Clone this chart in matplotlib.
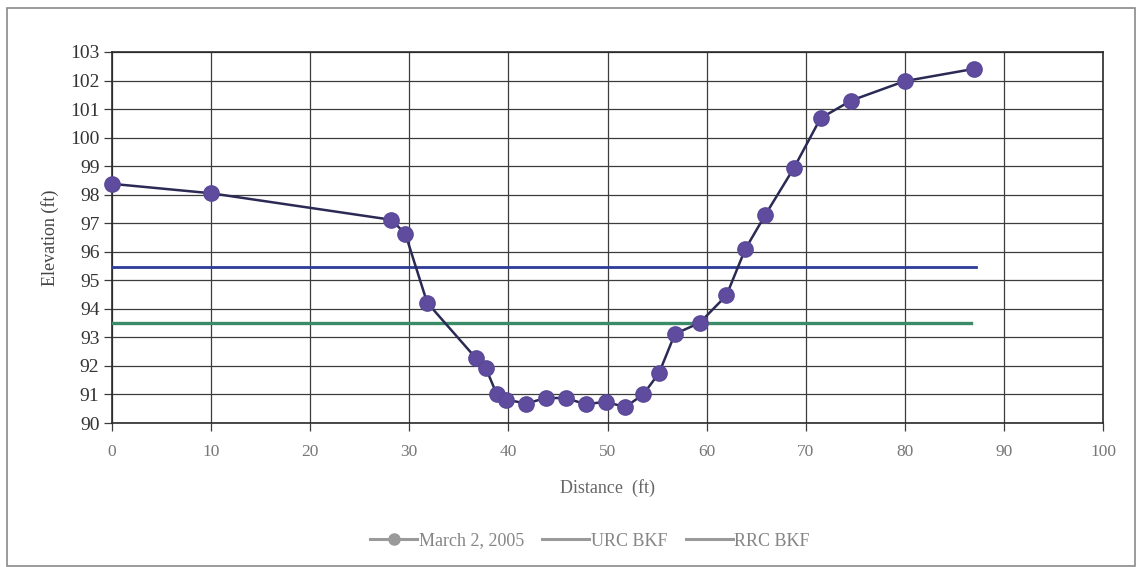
import matplotlib
matplotlib.use("Agg")
import matplotlib.pyplot as plt
from matplotlib.lines import Line2D
from matplotlib.patches import Rectangle

# ---- data ----
distance = [0, 10, 28.2, 29.6, 31.8, 36.7, 37.7, 38.8, 39.8, 41.8, 43.8, 45.8,
            47.8, 49.8, 51.8, 53.6, 55.2, 56.8, 59.3, 62.0, 63.9, 65.9, 68.8,
            71.5, 74.6, 80.0, 87.0]
elevation = [98.38, 98.05, 97.12, 96.63, 94.22, 92.28, 91.94, 91.03, 90.82,
             90.68, 90.88, 90.87, 90.66, 90.74, 90.56, 91.0, 91.75, 93.12,
             93.51, 94.47, 96.09, 97.28, 98.93, 100.68, 101.3, 101.98, 102.41]
urc_x = [0, 87.2]
urc_y = [95.48, 95.48]
rrc_x = [0, 86.7]
rrc_y = [93.52, 93.52]
series_labels = ["March 2, 2005", "URC BKF", "RRC BKF"]
x_ticks = list(range(0, 101, 10))
y_ticks = list(range(90, 104))

plt.rcParams['font.family'] = ['Liberation Serif', 'DejaVu Serif']

fig = plt.figure(figsize=(11.36, 5.67), dpi=100)
fig.patch.set_facecolor("white")
# outer chart frame
fig.patches.append(Rectangle((7/1136, 1/567), 1128/1136, 558/567,
                             transform=fig.transFigure, fill=False,
                             edgecolor="#8a8a8a", linewidth=1.2))

ax = fig.add_axes([112/1136, 1 - 423/567, (1103-112)/1136, (423-52)/567])
ax.set_facecolor("white")

grid_c = "#3c3c3c"
ax.plot(urc_x, urc_y, color="#2c3c98", linewidth=2.0, zorder=3)
ax.plot(rrc_x, rrc_y, color="#3b8a68", linewidth=2.4, zorder=3)
ax.plot(distance, elevation, color="#2b2a55", linewidth=1.8, marker="o",
        markersize=11, markerfacecolor="#5f4c9e", markeredgecolor="#5a4898",
        zorder=4, clip_on=False)

ax.set_xlim(0, 100)
ax.set_ylim(90, 103)
ax.set_xticks(x_ticks)
ax.set_yticks(y_ticks)
ax.grid(True, color=grid_c, linewidth=0.9)
ax.set_axisbelow(True)
for s in ax.spines.values():
    s.set_color("#2a2a2a")
    s.set_linewidth(1.2)
ax.tick_params(axis="y", direction="out", length=6, width=0.9, color=grid_c,
               labelsize=14, labelcolor="#333333", pad=3)
ax.tick_params(axis="x", direction="out", length=6, width=0.9, color=grid_c,
               labelsize=12.5, labelcolor="#777777", pad=9)

ax.set_ylabel("Elevation (ft)", fontsize=13, color="#444444", labelpad=8)
ax.set_xlabel("Distance  (ft)", fontsize=13, color="#666666", labelpad=14)

handles = [
    Line2D([], [], color="#9a9a9a", linewidth=2.2, marker="o", markersize=8,
           markerfacecolor="#9a9a9a", markeredgecolor="#9a9a9a"),
    Line2D([], [], color="#9a9a9a", linewidth=2.2),
    Line2D([], [], color="#9a9a9a", linewidth=2.2),
]
leg = fig.legend(handles, series_labels, loc="center", ncol=3,
                 bbox_to_anchor=(590/1136, 1 - 541/567), frameon=False,
                 fontsize=13, handlelength=2.6, handletextpad=0.1,
                 columnspacing=1.0)
for t in leg.get_texts():
    t.set_color("#858585")

fig.savefig("out.png", dpi=100, facecolor="white")
